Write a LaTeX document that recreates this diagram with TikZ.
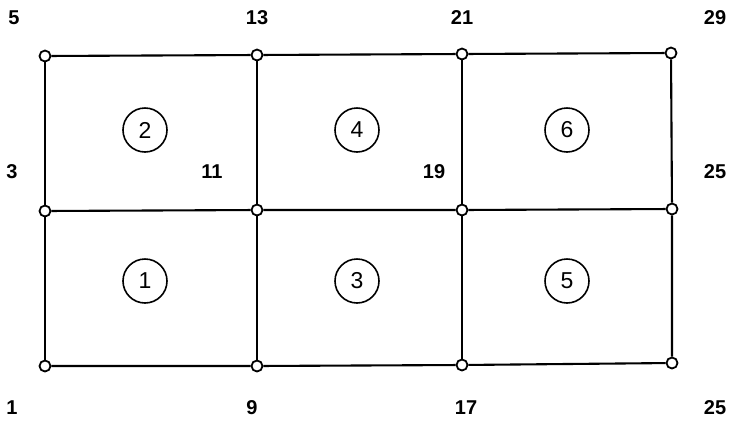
\documentclass[tikz,border=0pt]{standalone}
\usepackage{fontspec}
\setmainfont{Liberation Sans}
\begin{document}
\begin{tikzpicture}[x=1pt,y=-1pt,
  pt/.style={circle,draw,line width=1.8pt,minimum size=11pt,inner sep=0pt,fill=white},
  edge/.style={line width=2.1pt},
  lbl/.style={font=\fontsize{20}{20}\selectfont\bfseries},
  elem/.style={circle,draw,line width=1.6pt,minimum size=44pt,inner sep=0pt,font=\fontsize{23}{23}\selectfont}]
\useasboundingbox (0,0) rectangle (731,424);
% grid points
\node[pt] (n1)  at (45,366) {};
\node[pt] (n3)  at (45,211) {};
\node[pt] (n5)  at (45,56) {};
\node[pt] (n9)  at (257,366) {};
\node[pt] (n11) at (257,210) {};
\node[pt] (n13) at (257,55) {};
\node[pt] (n17) at (462,365) {};
\node[pt] (n19) at (462,210) {};
\node[pt] (n21) at (462,54) {};
\node[pt] (n25b) at (672,363) {};
\node[pt] (n25) at (672,209) {};
\node[pt] (n29) at (671,53) {};
% edges
\draw[edge] (n5) -- (n13) -- (n21) -- (n29);
\draw[edge] (n3) -- (n11) -- (n19) -- (n25);
\draw[edge] (n1) -- (n9) -- (n17) -- (n25b);
\draw[edge] (n5) -- (n3) -- (n1);
\draw[edge] (n13) -- (n11) -- (n9);
\draw[edge] (n21) -- (n19) -- (n17);
\draw[edge] (n29) -- (n25) -- (n25b);
% labels
\node[lbl] (l5)  at (14,18) {5};
\node[lbl] (l13) at (257,18) {13};
\node[lbl] (l21) at (462,18) {21};
\node[lbl] (l29) at (715,18) {29};
\node[lbl] (l3)  at (12,172) {3};
\node[lbl] (l11) at (212,172) {11};
\node[lbl] (l19) at (434,172) {19};
\node[lbl] (l25) at (715,172) {25};
\node[lbl] (l1)  at (12,408) {1};
\node[lbl] (l9)  at (252,408) {9};
\node[lbl] (l17) at (466,408) {17};
\node[lbl] (l25b) at (715,408) {25};
% elements
\node[elem] (e2) at (145,130) {2};
\node[elem] (e4) at (357,130) {4};
\node[elem] (e6) at (567,130) {6};
\node[elem] (e1) at (145,281) {1};
\node[elem] (e3) at (357,281) {3};
\node[elem] (e5) at (567,281) {5};
\end{tikzpicture}
\end{document}
